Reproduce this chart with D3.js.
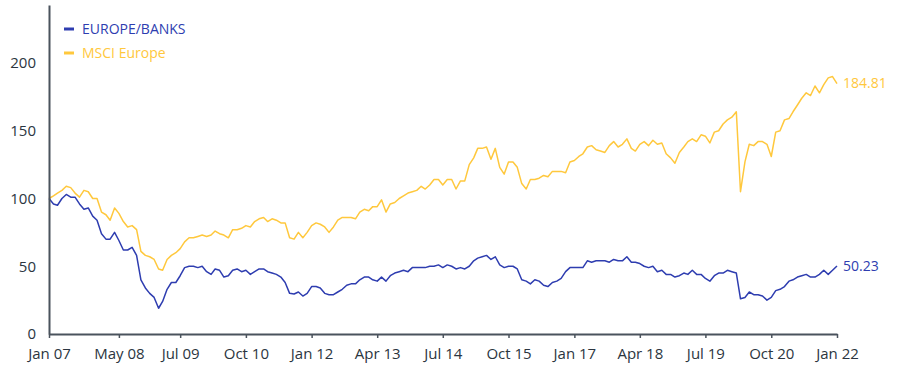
<!DOCTYPE html>
<html><head><meta charset="utf-8">
<script src="https://cdn.jsdelivr.net/npm/d3@7"></script>
<style>
body{margin:0;background:#fff}
text{font-family:"Open Sans",sans-serif}
</style>
</head><body>
<svg id="chart" width="903" height="390"></svg>
<script>
const months = [
"2007-01","2007-02","2007-03","2007-04","2007-05","2007-06","2007-07","2007-08","2007-09","2007-10","2007-11","2007-12",
"2008-01","2008-02","2008-03","2008-04","2008-05","2008-06","2008-07","2008-08","2008-09","2008-10","2008-11","2008-12",
"2009-01","2009-02","2009-03","2009-04","2009-05","2009-06","2009-07","2009-08","2009-09","2009-10","2009-11","2009-12",
"2010-01","2010-02","2010-03","2010-04","2010-05","2010-06","2010-07","2010-08","2010-09","2010-10","2010-11","2010-12",
"2011-01","2011-02","2011-03","2011-04","2011-05","2011-06","2011-07","2011-08","2011-09","2011-10","2011-11","2011-12",
"2012-01","2012-02","2012-03","2012-04","2012-05","2012-06","2012-07","2012-08","2012-09","2012-10","2012-11","2012-12",
"2013-01","2013-02","2013-03","2013-04","2013-05","2013-06","2013-07","2013-08","2013-09","2013-10","2013-11","2013-12",
"2014-01","2014-02","2014-03","2014-04","2014-05","2014-06","2014-07","2014-08","2014-09","2014-10","2014-11","2014-12",
"2015-01","2015-02","2015-03","2015-04","2015-05","2015-06","2015-07","2015-08","2015-09","2015-10","2015-11","2015-12",
"2016-01","2016-02","2016-03","2016-04","2016-05","2016-06","2016-07","2016-08","2016-09","2016-10","2016-11","2016-12",
"2017-01","2017-02","2017-03","2017-04","2017-05","2017-06","2017-07","2017-08","2017-09","2017-10","2017-11","2017-12",
"2018-01","2018-02","2018-03","2018-04","2018-05","2018-06","2018-07","2018-08","2018-09","2018-10","2018-11","2018-12",
"2019-01","2019-02","2019-03","2019-04","2019-05","2019-06","2019-07","2019-08","2019-09","2019-10","2019-11","2019-12",
"2020-01","2020-02","2020-03","2020-04","2020-05","2020-06","2020-07","2020-08","2020-09","2020-10","2020-11","2020-12",
"2021-01","2021-02","2021-03","2021-04","2021-05","2021-06","2021-07","2021-08","2021-09","2021-10","2021-11","2021-12",
"2022-01"];

const europeBanks = [
100,96,95,100,103,101,101,96,92,93,87,84,
74,70,70,75,69,62,62,64,58,40,34,30,
27,19,24,33,38,38,43,49,50,50,49,50,
46,44,48,47,42,43,47,48,46,47,44,46,
48,48,46,45,44,42,38,30,29.5,31,28,30,
35,35,34,30,29,29,31,33,36,37,37,40,
42,42,40,39,42,39,43,45,46,47,46,49,
49,49,49,50,50,51,49,51,50,48,49,48,
50,54,56,57,58,55,57,51,49,50,50,48,
40,39,37,40,39,36,35,38,39,41,46,49,
49,49,49,54,53,54,54,54,53,55,54,54,
57,53,53,52,50,49,50,46,47,44,44,42,
43,45,44,47,44,44,41,39,43,45,45,47,
46,45,26,27,31,29,29,28,25,27,32,33,
35,39,40,42,43,44,42,42,44,47,44,47,
50.23];

const msciEurope = [
100,102,104,106,109,108,104,101,106,105,100,100,
90,88,84,93,89,83,79,80,77,61,58,57,
55,48,47,55,58,60,63,68,71,71,72,73,
72,73,76,74,73,71,77,77,78,80,79,83,
85,86,83,85,84,82,82,71,70,75,71,75,
80,82,81,79,75,79,84,86,86,86,85,90,
92,91,94,94,99,90,96,97,100,102,104,105,
106,109,107,110,114,114,110,114,114,107,113,113,
125,130,137,137,138,129,137,123,118,127,127,123,
111,107,114,114,115,117,116,120,120,120,119,127,
128,131,133,138,139,136,135,134,139,142,138,140,
144,137,135,140,142,139,143,140,141,133,130,126,
134,138,142,144,142,147,146,141,149,150,155,158,
160,164,105,127,140,139,142,142,140,131,149,150,
158,159,164,169,174,178,176,183,178,184,189,190,
184.81];

const seriesNames = ["EUROPE/BANKS", "MSCI Europe"];
const endLabels = ["50.23", "184.81"];
const tickMonths = ["2007-01","2008-05","2009-07","2010-10","2012-01","2013-04","2014-07","2015-10","2017-01","2018-04","2019-07","2020-10","2022-01"];
const tickLabels = ["Jan 07","May 08","Jul 09","Oct 10","Jan 12","Apr 13","Jul 14","Oct 15","Jan 17","Apr 18","Jul 19","Oct 20","Jan 22"];
const yTicks = [0, 50, 100, 150, 200];

const BLUE = "#2e3db0", YELLOW = "#ffc83d", AXIS = "#4a535d", TXT = "#2b3540";

const parse = d3.timeParse("%Y-%m");
const dates = months.map(parse);
const svg = d3.select("#chart");

const x = d3.scaleTime().domain([parse("2007-01"), parse("2022-01")]).range([49, 837]);
const y = d3.scaleLinear().domain([0, 242.8]).range([334, 5]);

const line = d3.line().x(d => x(d[0])).y(d => y(d[1]));

const series = [
  {name: seriesNames[1], values: msciEurope, color: YELLOW, label: endLabels[1]},
  {name: seriesNames[0], values: europeBanks, color: BLUE, label: endLabels[0]}
];

series.forEach(s => {
  const pts = dates.map((d, i) => [d, s.values[i]]);
  svg.append("path").datum(pts)
    .attr("fill", "none").attr("stroke", s.color)
    .attr("stroke-width", 1.5).attr("stroke-linejoin", "round")
    .attr("d", line);
  const last = pts[pts.length - 1];
  svg.append("text").attr("x", x(last[0]) + 6).attr("y", y(last[1]))
    .attr("dy", "0.35em").attr("fill", s.color)
    .style("font-size", "14px").text(s.label);
});

// Y axis
const yAxis = svg.append("g").attr("transform", "translate(49,0)")
  .call(d3.axisLeft(y).tickValues(yTicks).tickSize(0).tickPadding(13).tickFormat(d3.format("d")));
yAxis.select(".domain").attr("stroke", AXIS).attr("stroke-width", 2);
yAxis.selectAll("text").attr("fill", TXT).style("font-size", "15px").style("font-family", '"Open Sans",sans-serif');

// X axis
const xAxis = svg.append("g").attr("transform", "translate(0,334)")
  .call(d3.axisBottom(x).tickValues(tickMonths.map(parse)).tickSizeInner(4).tickSizeOuter(0)
    .tickPadding(10).tickFormat((d, i) => tickLabels[i]));
xAxis.select(".domain").attr("stroke", AXIS).attr("stroke-width", 2);
xAxis.selectAll(".tick line").attr("stroke", AXIS).attr("stroke-width", 1.5);
xAxis.selectAll("text").attr("fill", TXT).style("font-size", "15px").style("font-family", '"Open Sans",sans-serif');

// Legend
const legend = [
  {name: seriesNames[0], color: BLUE},
  {name: seriesNames[1], color: YELLOW}
];
legend.forEach((l, i) => {
  const ly = 29 + i * 24;
  svg.append("line").attr("x1", 64).attr("x2", 74).attr("y1", ly).attr("y2", ly)
    .attr("stroke", l.color).attr("stroke-width", 3);
  svg.append("text").attr("x", 82).attr("y", ly).attr("dy", "0.35em")
    .attr("fill", l.color).style("font-size", "14px").text(l.name);
});
</script>
</body></html>
